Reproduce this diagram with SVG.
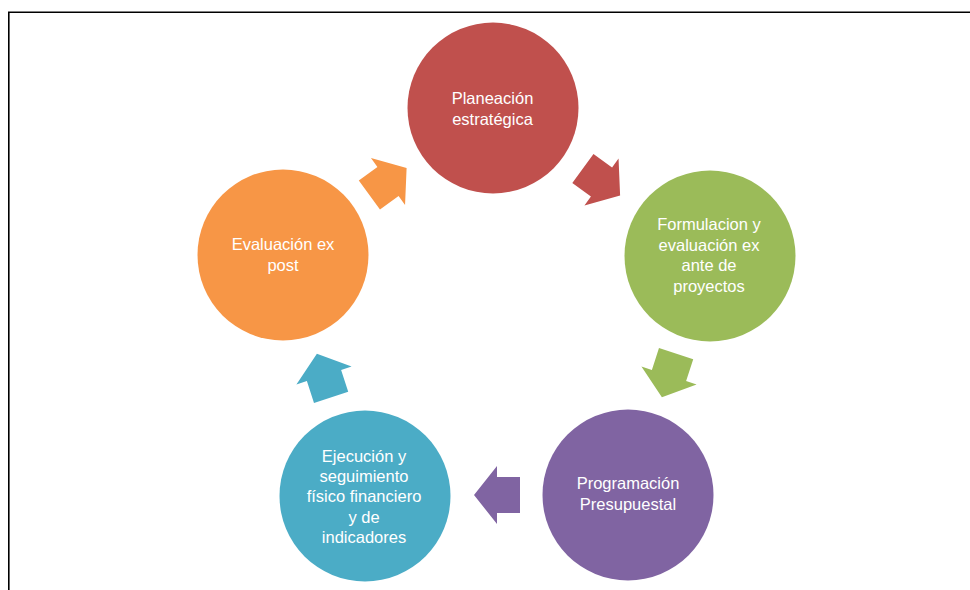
<svg xmlns="http://www.w3.org/2000/svg" width="970" height="590" viewBox="0 0 970 590">
<style>
.lbl{font-family:"Liberation Sans",Arial,sans-serif;font-size:16.5px;fill:#fff;text-anchor:middle}
.frame{fill:none;stroke:#000;stroke-width:1.6}
</style>
<defs>
<polygon id="arr" points="-23,-18 0,-18 0,-29 23,0 0,29 0,18 -23,18"/>
</defs>
<rect width="970" height="590" fill="#fff"/>
<path class="frame" d="M8.8 590 V12.3 H970"/>
<g id="connectors">
<use href="#arr" fill="#C0504D" transform="translate(601.5,182) rotate(36)"/>
<use href="#arr" fill="#9BBB59" transform="translate(669,375.5) rotate(108)"/>
<use href="#arr" fill="#8064A2" transform="translate(497,495) rotate(180)"/>
<use href="#arr" fill="#4BACC6" transform="translate(324,375.5) rotate(252)"/>
<use href="#arr" fill="#F79646" transform="translate(388,181.5) rotate(324)"/>
</g>
<g id="planeacion">
<circle cx="493" cy="108" r="85.5" fill="#C0504D"/>
<text class="lbl" x="492.5" y="104.3">Planeación</text>
<text class="lbl" x="492.5" y="125">estratégica</text>
</g>
<g id="formulacion">
<circle cx="710" cy="256" r="85.5" fill="#9BBB59"/>
<text class="lbl" x="709" y="230">Formulacion y</text>
<text class="lbl" x="709" y="250.7">evaluación ex</text>
<text class="lbl" x="709" y="271.4">ante de</text>
<text class="lbl" x="709" y="292">proyectos</text>
</g>
<g id="programacion">
<circle cx="628" cy="495" r="85.5" fill="#8064A2"/>
<text class="lbl" x="628" y="489.3">Programación</text>
<text class="lbl" x="628" y="510">Presupuestal</text>
</g>
<g id="ejecucion">
<circle cx="365" cy="496" r="85.5" fill="#4BACC6"/>
<text class="lbl" x="364" y="461.7">Ejecución y</text>
<text class="lbl" x="364" y="482">seguimiento</text>
<text class="lbl" x="364" y="502.3">físico financiero</text>
<text class="lbl" x="364" y="522.6">y de</text>
<text class="lbl" x="364" y="543">indicadores</text>
</g>
<g id="evaluacion">
<circle cx="283" cy="255" r="85.5" fill="#F79646"/>
<text class="lbl" x="283" y="250">Evaluación ex</text>
<text class="lbl" x="283" y="270.5">post</text>
</g>
</svg>
